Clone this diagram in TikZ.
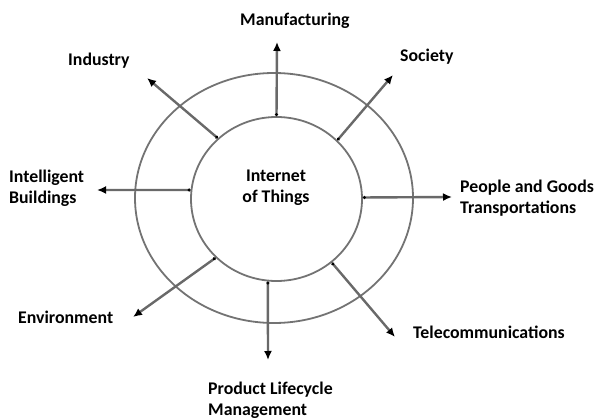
\documentclass[tikz,border=0pt]{standalone}
\usepackage{fontspec}
\setmainfont{Carlito}
\usetikzlibrary{shapes.geometric,arrows.meta}
\definecolor{ringgray}{RGB}{115,115,115}
\definecolor{arrowgray}{RGB}{105,105,105}
\tikzset{
  ring/.style={ellipse, draw=ringgray, line width=1.8pt, inner sep=0pt},
  spoke/.style={draw=arrowgray, line width=2.4pt,
    arrows={Circle[length=3pt,color=black]-Latex[length=9pt,width=8pt,color=black]}},
  lbl/.style={font={\fontsize{17.8}{21}\selectfont\bfseries}, inner sep=0pt, align=left, anchor=base west},
}
\begin{document}
\begin{tikzpicture}[x=1pt,y=-1pt]
\useasboundingbox (0,0) rectangle (594,419);
% rings
\node[ring, minimum width=278pt, minimum height=250pt] (outer) at (274,198) {};
\node[ring, minimum width=171pt, minimum height=164pt] (inner) at (276.5,199) {};
\node[lbl, align=center, anchor=base] (iot) at (276,203) {Internet\\of Things};
% labels (multi-line labels are placed by the baseline of their last line)
\node[lbl] (manu) at (240,26) {Manufacturing};
\node[lbl] (indu) at (68,66) {Industry};
\node[lbl] (soci) at (400,62) {Society};
\node[lbl] (intb) at (9,204) {Intelligent\\Buildings};
\node[lbl] (peop) at (460,214) {People and Goods\\Transportations};
\node[lbl] (envi) at (18,324) {Environment};
\node[lbl] (tele) at (413,338) {Telecommunications};
\node[lbl] (prod) at (208,415) {Product Lifecycle\\Management};
% arrow tips
\coordinate (tmanu) at (277,42);
\coordinate (tindu) at (147,78);
\coordinate (tsoci) at (393,75);
\coordinate (tintb) at (97,190);
\coordinate (tpeop) at (452,197);
\coordinate (tenvi) at (133,317);
\coordinate (ttele) at (395,337);
\coordinate (tprod) at (268,360);
% spokes
\draw[spoke] (inner.90) -- (tmanu);
\draw[spoke] (inner.134) -- (tindu);
\draw[spoke] (inner.44) -- (tsoci);
\draw[spoke] (inner.174) -- (tintb);
\draw[spoke] (inner.1) -- (tpeop);
\draw[spoke] (inner.-136.7) -- (tenvi);
\draw[spoke] (inner.-49) -- (ttele);
\draw[spoke] (inner.-96) -- (tprod);
\end{tikzpicture}
\end{document}
